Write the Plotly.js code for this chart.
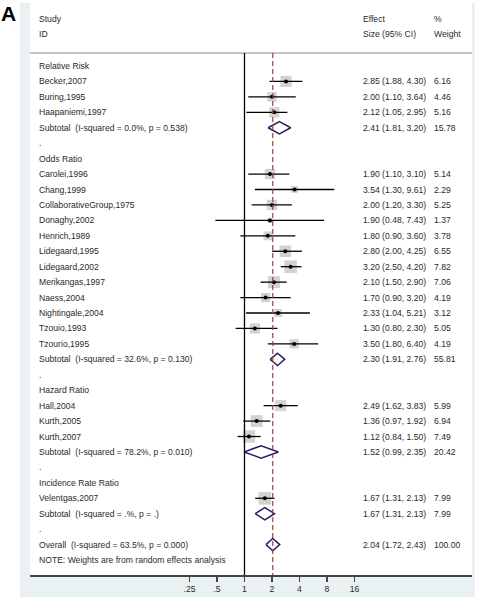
<!DOCTYPE html>
<html><head><meta charset="utf-8">
<script src="https://cdn.plot.ly/plotly-3.0.1.min.js"></script>
<style>html,body{margin:0;padding:0;background:#fff}</style>
</head><body><div id="chart" style="width:481px;height:600px"></div>
<script>
// ---- data ----
const rowLabels = [
  'Relative Risk','Becker,2007','Buring,1995','Haapaniemi,1997',
  'Subtotal\u00a0 (I-squared = 0.0%, p = 0.538)','.',
  'Odds Ratio','Carolei,1996','Chang,1999','CollaborativeGroup,1975','Donaghy,2002',
  'Henrich,1989','Lidegaard,1995','Lidegaard,2002','Merikangas,1997','Naess,2004',
  'Nightingale,2004','Tzouio,1993','Tzourio,1995',
  'Subtotal\u00a0 (I-squared = 32.6%, p = 0.130)','.',
  'Hazard Ratio','Hall,2004','Kurth,2005','Kurth,2007',
  'Subtotal\u00a0 (I-squared = 78.2%, p = 0.010)','.',
  'Incidence Rate Ratio','Velentgas,2007',
  'Subtotal\u00a0 (I-squared = .%, p = .)','.',
  'Overall\u00a0 (I-squared = 63.5%, p = 0.000)',
  'NOTE: Weights are from random effects analysis'
];
const studyNames = ['Becker,2007','Buring,1995','Haapaniemi,1997',
  'Carolei,1996','Chang,1999','CollaborativeGroup,1975','Donaghy,2002','Henrich,1989',
  'Lidegaard,1995','Lidegaard,2002','Merikangas,1997','Naess,2004','Nightingale,2004',
  'Tzouio,1993','Tzourio,1995','Hall,2004','Kurth,2005','Kurth,2007','Velentgas,2007'];
const studyES     = [2.85,2.00,2.12, 1.90,3.54,2.00,1.90,1.80,2.80,3.20,2.10,1.70,2.33,1.30,3.50, 2.49,1.36,1.12, 1.67];
const studyLower  = [1.88,1.10,1.05, 1.10,1.30,1.20,0.48,0.90,2.00,2.50,1.50,0.90,1.04,0.80,1.80, 1.62,0.97,0.84, 1.31];
const studyUpper  = [4.30,3.64,2.95, 3.10,9.61,3.30,7.43,3.60,4.25,4.20,2.90,3.20,5.21,2.30,6.40, 3.83,1.92,1.50, 2.13];
const studyWeight = [6.16,4.46,5.16, 5.14,2.29,5.25,1.37,3.78,6.55,7.82,7.06,4.19,3.12,5.05,4.19, 5.99,6.94,7.49, 7.99];

const pooledNames = [
  'Subtotal\u00a0 (I-squared = 0.0%, p = 0.538)',
  'Subtotal\u00a0 (I-squared = 32.6%, p = 0.130)',
  'Subtotal\u00a0 (I-squared = 78.2%, p = 0.010)',
  'Subtotal\u00a0 (I-squared = .%, p = .)',
  'Overall\u00a0 (I-squared = 63.5%, p = 0.000)'];
const pooledES     = [2.41,2.30,1.52,1.67,2.04];
const pooledLower  = [1.81,1.91,0.99,1.31,1.72];
const pooledUpper  = [3.20,2.76,2.35,2.13,2.43];
const pooledWeight = [15.78,55.81,20.42,7.99,100.00];

const tickValues = [0.25,0.5,1,2,4,8,16];
const tickLabels = ['.25','.5','1','2','4','8','16'];
const headerTop    = ['Study','Effect','%'];
const headerBottom = ['ID','Size (95% CI)','Weight'];
const nullValue = 1;

// ---- build ----
const FONT = 'Liberation Sans, Arial, Helvetica, sans-serif';
const TXT = '#2a2a2a';
const FS = 8.6;
const rowOf = n => rowLabels.indexOf(n);
const studyRows = studyNames.map(rowOf);
const pooledRows = pooledNames.map(rowOf);
const overallES = pooledES[pooledES.length-1];

const ciX = [], ciY = [];
studyNames.forEach((n,i)=>{ ciX.push(studyLower[i],studyUpper[i],null); ciY.push(studyRows[i],studyRows[i],null); });
const dX = [], dY = [], H = 0.4;
pooledNames.forEach((n,i)=>{
  const r = pooledRows[i];
  dX.push(pooledLower[i],pooledES[i],pooledUpper[i],pooledES[i],pooledLower[i],null);
  dY.push(r,r-H,r,r+H,r,null);
});

const traces = [
  {type:'scatter',mode:'markers',x:studyES,y:studyRows,hoverinfo:'skip',
   marker:{symbol:'square',size:studyWeight.map(w=>4.5*Math.sqrt(w)),color:'#bfbfbf',line:{width:0}}},
  {type:'scatter',mode:'lines',x:ciX,y:ciY,hoverinfo:'skip',line:{color:'#000',width:1.3}},
  {type:'scatter',mode:'markers',x:studyES,y:studyRows,hoverinfo:'skip',
   marker:{symbol:'circle',size:4,color:'#000'}},
  {type:'scatter',mode:'lines',x:dX,y:dY,hoverinfo:'skip',line:{color:'#22226e',width:1.5}}
];

const colX = [0.0158, 0.7489, 0.9095];
const ann = [];
function addText(text,x,y){
  ann.push({text:text,xref:'paper',yref:'y',x:x,y:y,xanchor:'left',yanchor:'middle',
    showarrow:false,font:{family:FONT,size:FS,color:TXT}});
}
headerTop.forEach((t,i)=>addText(t,colX[i],-3.04));
headerBottom.forEach((t,i)=>addText(t,colX[i],-2.07));
rowLabels.forEach((t,i)=>addText(t,colX[0],i));
studyNames.forEach((n,i)=>{
  addText(studyES[i].toFixed(2)+' ('+studyLower[i].toFixed(2)+', '+studyUpper[i].toFixed(2)+')',colX[1],studyRows[i]);
  addText(studyWeight[i].toFixed(2),colX[2],studyRows[i]);
});
pooledNames.forEach((n,i)=>{
  addText(pooledES[i].toFixed(2)+' ('+pooledLower[i].toFixed(2)+', '+pooledUpper[i].toFixed(2)+')',colX[1],pooledRows[i]);
  addText(pooledWeight[i].toFixed(2),colX[2],pooledRows[i]);
});
ann.push({text:'<b>A</b>',xref:'paper',yref:'paper',x:-0.0679,y:0.9808,xanchor:'left',yanchor:'middle',
  showarrow:false,font:{family:FONT,size:21,color:'#000'},borderpad:0});

const yTop = -4.08, yBot = 32.97, sepRow = -0.84;
const shapes = [
  {type:'rect',xref:'paper',yref:'paper',x0:-0.0226,x1:1.0068,y0:-0.0385,y1:1,layer:'below',
   fillcolor:'#e9f1f2',line:{width:0}},
  {type:'rect',xref:'paper',yref:'paper',x0:0,x1:1,y0:0,y1:1,layer:'below',
   fillcolor:'#ffffff',line:{width:0}},
  {type:'line',xref:'paper',yref:'y',x0:0,x1:1,y0:sepRow,y1:sepRow,line:{color:'#c4c4c4',width:1.8}},
  {type:'line',xref:'x',yref:'y',x0:nullValue,x1:nullValue,y0:sepRow,y1:yBot,line:{color:'#000',width:1.3}},
  {type:'line',xref:'x',yref:'y',x0:overallES,x1:overallES,y0:sepRow,y1:yBot,
   line:{color:'#a83a3a',width:1.2,dash:'5px,3px'}}
];

const layout = {
  width:481,height:600,margin:{l:30,r:9,t:3,b:25},
  paper_bgcolor:'#ffffff',plot_bgcolor:'#ffffff',showlegend:false,
  xaxis:{type:'log',range:[-2.348,2.4905],showgrid:false,zeroline:false,
    showline:true,linecolor:'#444',linewidth:1.5,ticks:'outside',ticklen:5,tickwidth:1.3,tickcolor:'#444',
    tickvals:tickValues,ticktext:tickLabels,tickfont:{family:FONT,size:FS,color:TXT},fixedrange:true},
  yaxis:{range:[yBot,yTop],showgrid:false,zeroline:false,showline:false,showticklabels:false,ticks:'',fixedrange:true},
  shapes:shapes,annotations:ann
};
Plotly.newPlot('chart',traces,layout,{displayModeBar:false,staticPlot:true});
</script></body></html>
